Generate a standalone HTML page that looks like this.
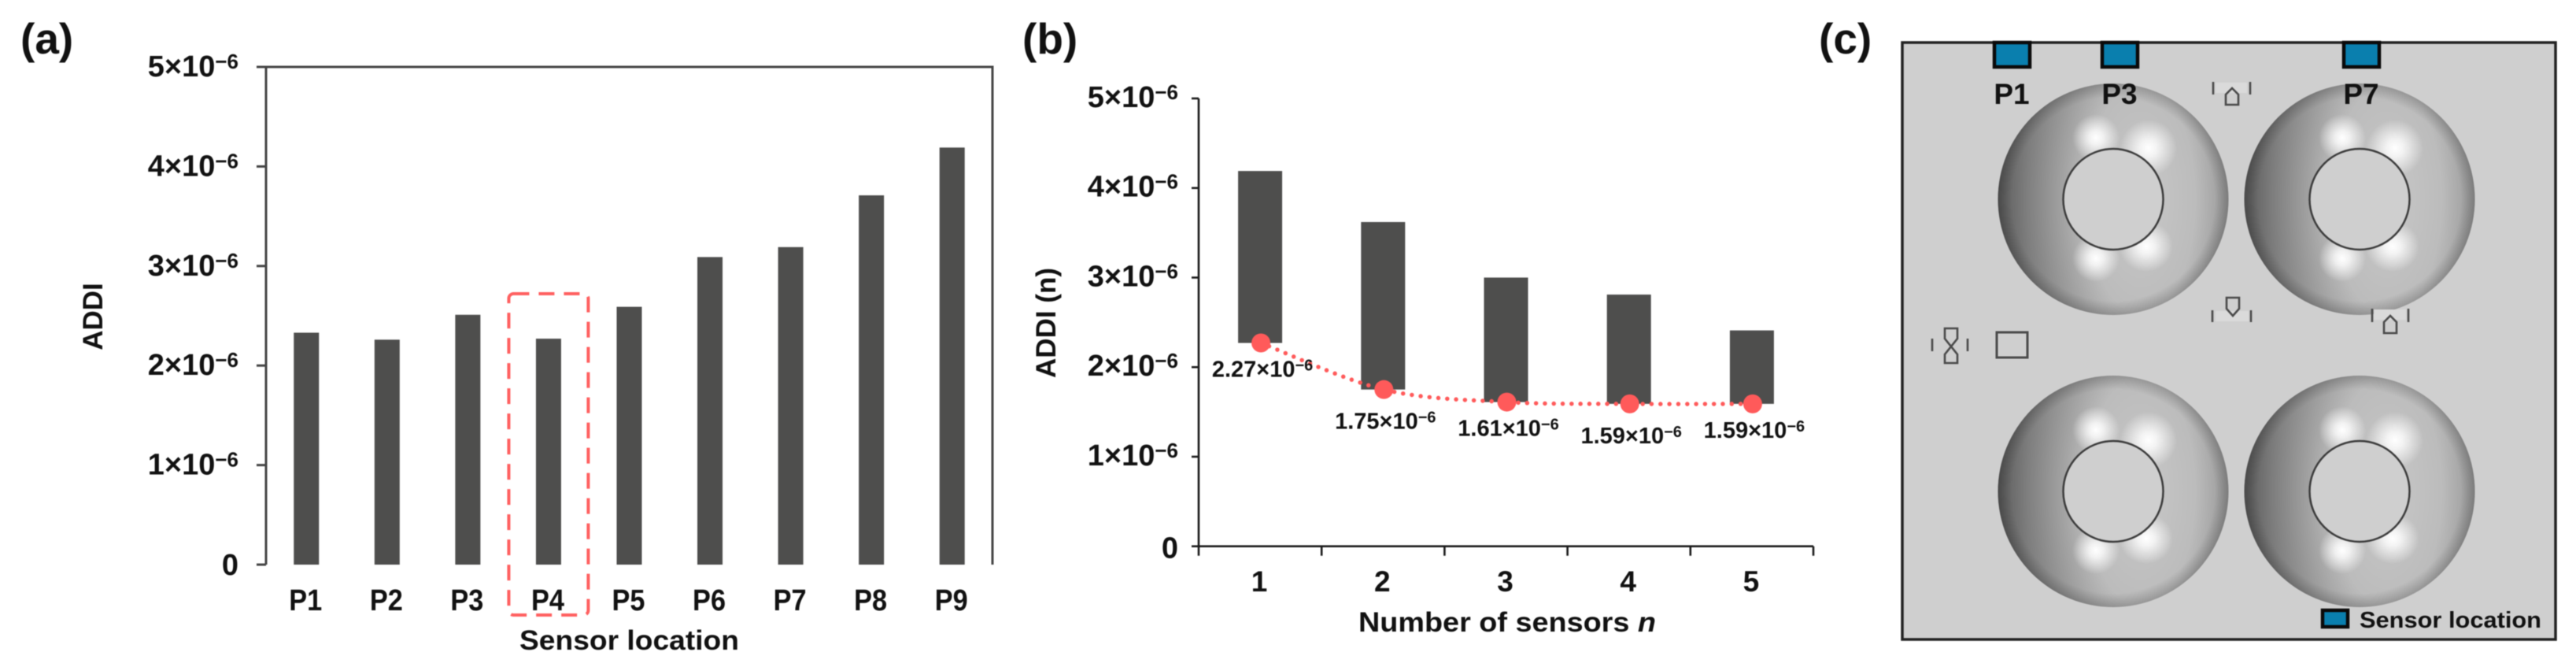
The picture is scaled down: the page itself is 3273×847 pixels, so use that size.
<!DOCTYPE html>
<html lang="en">
<head>
<meta charset="utf-8">
<title>ADDI by sensor location and number of sensors</title>
<style>
html,body{margin:0;padding:0;background:#fff;width:3273px;height:847px;overflow:hidden}
svg{display:block;filter:blur(.6px)}
text{font-family:"Liberation Sans",Arial,sans-serif;font-weight:700;fill:#111}
</style>
</head>
<body>
<svg id="figure" xmlns="http://www.w3.org/2000/svg" width="3273" height="847" viewBox="0 0 3273 847">
<defs>
<radialGradient id="torusShade" cx=".62" cy=".5" r="1" gradientTransform="translate(.62 .5) scale(.62 1.3) translate(-.62 -.5)">
<stop offset="0" stop-color="#c8c8c8"/><stop offset=".38" stop-color="#bcbcbc"/><stop offset=".55" stop-color="#a2a2a2"/><stop offset=".8" stop-color="#7e7e7e"/><stop offset="1" stop-color="#5a5a5a"/>
</radialGradient>
<radialGradient id="torusRim"><stop offset=".88" stop-color="#000" stop-opacity="0"/><stop offset="1" stop-color="#000" stop-opacity=".2"/></radialGradient>
<radialGradient id="glow"><stop offset="0" stop-color="#fff" stop-opacity="1"/><stop offset=".3" stop-color="#fff" stop-opacity=".8"/><stop offset="1" stop-color="#fff" stop-opacity="0"/></radialGradient>
<g id="torus">
<ellipse cx="0" cy="0" rx="146.5" ry="147" fill="url(#torusShade)"/>
<ellipse cx="0" cy="0" rx="146.5" ry="147" fill="url(#torusRim)"/>
<ellipse cx="-22" cy="-78" rx="30" ry="30" fill="url(#glow)"/>
<ellipse cx="45" cy="-65" rx="36" ry="36" fill="url(#glow)"/>
<ellipse cx="-22" cy="75" rx="30" ry="30" fill="url(#glow)"/>
<ellipse cx="42" cy="60" rx="34" ry="32" fill="url(#glow)"/>
<ellipse cx="0" cy="0" rx="63.5" ry="64" fill="#cfcfcf" stroke="#3c3c3c" stroke-width="2.5"/>
</g>
</defs>

<g id="panel-a"></g>
<g id="panel-b"></g>

<g id="panel-c">
<text x="2311" y="68" font-size="55">(c)</text>
<rect x="2417" y="54" width="830" height="758" fill="#cfcfcf" stroke="#222" stroke-width="3.5"/>
<use href="#torus" transform="translate(2685 253)"/>
<use href="#torus" transform="translate(2998 253)"/>
<use href="#torus" transform="translate(2685 624)"/>
<use href="#torus" transform="translate(2998 624)"/>

<g fill="none" stroke="#4a4a4a" stroke-width="2.6">
<g>
<rect x="2815" y="105" width="40" height="13" fill="#dadada" stroke="none"/>
<path d="M2812 104v16M2859 104v16M2828 133v-13l8-8 8 8v13z"/>
</g>
<g>
<rect x="2815" y="395" width="42" height="13" fill="#dadada" stroke="none"/>
<path d="M2811 394v15M2860 394v15M2829 378v14l8 9 8-9v-14z"/>
</g>
<g>
<rect x="3016" y="393" width="41" height="13" fill="#dadada" stroke="none"/>
<path d="M3014 392v17M3060 392v17M3029 423v-14l8-8 8 8v14z"/>
</g>
<g>
<path d="M2455 430v16M2500 430v16M2471 417h16v13l-16 20v11h16v-11l-16-20z"/>
</g>
<rect x="2537" y="422" width="39" height="32" stroke-width="3"/>
</g>

<g>
<rect x="2534" y="54" width="45" height="31" fill="#0a7fae" stroke="#0a0a0a" stroke-width="4.5"/>
<text x="2556" y="132" font-size="37" text-anchor="middle">P1</text>
</g>
<g>
<rect x="2671" y="54" width="45" height="31" fill="#0a7fae" stroke="#0a0a0a" stroke-width="4.5"/>
<text x="2693" y="132" font-size="37" text-anchor="middle">P3</text>
</g>
<g>
<rect x="2978" y="54" width="45" height="31" fill="#0a7fae" stroke="#0a0a0a" stroke-width="4.5"/>
<text x="3000" y="132" font-size="37" text-anchor="middle">P7</text>
</g>
<g>
<rect x="2951" y="775" width="32" height="21" fill="#0a7fae" stroke="#0a0a0a" stroke-width="4.5"/>
<text x="2998" y="797" font-size="29" textLength="231" lengthAdjust="spacingAndGlyphs">Sensor location</text>
</g>
</g>
</svg>

<script>
// Panel (a) data
const sensorNames = ["P1", "P2", "P3", "P4", "P5", "P6", "P7", "P8", "P9"];
const sensorAddi = [2.33, 2.26, 2.51, 2.27, 2.59, 3.09, 3.19, 3.71, 4.19];
const highlightedSensor = "P4";
// Panel (b) data
const sensorCounts = ["1", "2", "3", "4", "5"];
const maxAddi = [4.19, 3.62, 3.0, 2.81, 2.41];
const minAddi = [2.27, 1.75, 1.61, 1.59, 1.59];
const minAddiLabels = ["2.27", "1.75", "1.61", "1.59", "1.59"];
// Shared axis ticks (units of 10^-6)
const yTicks = [0, 1, 2, 3, 4, 5];
const tickExponent = "−6";

const NS = "http://www.w3.org/2000/svg";
const BAR = "#4e4e4d", RED = "#ff5a5a";

function make(parent, tag, attrs, txt) {
  const el = document.createElementNS(NS, tag);
  for (const k in attrs) el.setAttribute(k, attrs[k]);
  if (txt !== undefined) el.textContent = txt;
  parent.appendChild(el);
  return el;
}

function sciLabel(parent, x, y, anchor, size, supSize, rise, mantissa) {
  const t = make(parent, "text", { x: x, y: y, "text-anchor": anchor, "font-size": size });
  make(t, "tspan", {}, mantissa + "×10");
  make(t, "tspan", { "font-size": supSize, dy: -rise }, tickExponent);
  return t;
}

/* ---------- Panel (a) ---------- */
(function () {
  const g = document.getElementById("panel-a");
  const L = 338, R = 1261, T = 85, B = 717, TICK = 12, YMAX = 5;
  const xBand = (R - L) / sensorNames.length;
  const xC = i => L + xBand * (i + 0.5);
  const y = v => B - (v / YMAX) * (B - T);
  const barW = 32;

  const title = make(g, "text", { x: 26, y: 68, "font-size": 55 }, "(a)");
  
  

  sensorAddi.forEach((v, i) => {
    const bar = make(g, "rect", { x: xC(i) - barW / 2, y: y(v), width: barW, height: B - y(v), fill: BAR });
    
    
    const lab = make(g, "text", { x: xC(i) - 1, y: B + 58, "font-size": 38, "text-anchor": "middle", textLength: 42, lengthAdjust: "spacingAndGlyphs" }, sensorNames[i]);
    
    
  });

  const frame = make(g, "path", {
    d: `M${L} ${T}H${R}V${B}M${L} ${T}V${B}`,
    fill: "none", stroke: "#444", "stroke-width": 3
  });
  
  

  yTicks.forEach(v => {
    const tick = make(g, "line", { x1: L - TICK, x2: L, y1: y(v), y2: y(v), stroke: "#444", "stroke-width": 3 });
    
    
    const lab = v === 0
      ? make(g, "text", { x: 303, y: y(v) + 13, "font-size": 38, "text-anchor": "end" }, "0")
      : sciLabel(g, 303, y(v) + 12, "end", 38, 26, 10, v);
    
    
  });

  const hi = sensorNames.indexOf(highlightedSensor);
  const box = make(g, "rect", {
    x: xC(hi) - 50.5, y: 373, width: 101, height: 408, rx: 6,
    fill: "none", stroke: "#ff6060", "stroke-width": 4, "stroke-dasharray": "20 12"
  });
  
  

  const xt = make(g, "text", { x: 660, y: 825, "font-size": 35, textLength: 279, lengthAdjust: "spacingAndGlyphs" }, "Sensor location");
  
  

  const yt = make(g, "text", { "font-size": 35, "text-anchor": "middle", transform: "translate(130 402) rotate(-90)" }, "ADDI");
  
  
})();

/* ---------- Panel (b) ---------- */
(function () {
  const g = document.getElementById("panel-b");
  const L = 1523, R = 2304, T = 125, B = 693.7, YMAX = 5;
  const xBand = (R - L) / sensorCounts.length;
  const xC = i => L + xBand * (i + 0.5);
  const y = v => B - (v / YMAX) * (B - T);
  const barW = 56;

  const title = make(g, "text", { x: 1299, y: 68, "font-size": 55 }, "(b)");
  
  

  maxAddi.forEach((v, i) => {
    const bar = make(g, "rect", { x: xC(i) - barW / 2, y: y(v), width: barW, height: y(minAddi[i]) - y(v), fill: BAR });
    
    
  });

  const axes = make(g, "path", { d: `M${L} ${T}V${B}H${R}`, fill: "none", stroke: "#1a1a1a", "stroke-width": 2.6 });
  
  

  yTicks.forEach(v => {
    const tick = make(g, "line", { x1: L - 9, x2: L, y1: y(v), y2: y(v), stroke: "#1a1a1a", "stroke-width": 2.6 });
    
    
    const lab = v === 0
      ? make(g, "text", { x: 1497, y: y(v) + 15, "font-size": 38, "text-anchor": "end" }, "0")
      : sciLabel(g, 1497, y(v) + 11, "end", 38, 26, 10, v);
    
    
  });

  for (let i = 0; i <= sensorCounts.length; i++) {
    const px = L + xBand * i;
    const tick = make(g, "line", { x1: px, x2: px, y1: B, y2: B + 12, stroke: "#1a1a1a", "stroke-width": 2.6 });
    
    
  }

  sensorCounts.forEach((c, i) => {
    const lab = make(g, "text", { x: xC(i) - 1, y: 751, "font-size": 37, "text-anchor": "middle" }, c);
    
    
  });

  // Smoothed (Catmull-Rom) dotted line through the minima
  const pts = minAddi.map((v, i) => [xC(i) + 1, y(v)]);
  let d = `M${pts[0][0]} ${pts[0][1]}`;
  for (let i = 0; i < pts.length - 1; i++) {
    const p0 = pts[Math.max(i - 1, 0)], p1 = pts[i], p2 = pts[i + 1], p3 = pts[Math.min(i + 2, pts.length - 1)];
    const c1 = [p1[0] + (p2[0] - p0[0]) / 6, p1[1] + (p2[1] - p0[1]) / 6];
    const c2 = [p2[0] - (p3[0] - p1[0]) / 6, p2[1] - (p3[1] - p1[1]) / 6];
    d += `C${c1[0]} ${c1[1]} ${c2[0]} ${c2[1]} ${p2[0]} ${p2[1]}`;
  }
  const line = make(g, "path", { d: d, fill: "none", stroke: RED, "stroke-width": 5.5, "stroke-linecap": "round", "stroke-dasharray": "0 11.3" });
  
  

  minAddi.forEach((v, i) => {
    const dot = make(g, "circle", { cx: xC(i) + 1, cy: y(v), r: 12, fill: RED });
    
    
    const stagger = i % 2 ? 50 : 43;
    const lab = sciLabel(g, xC(i) + 3, y(v) + stagger, "middle", 29, 20, 8, minAddiLabels[i]);
    
    
  });

  const xt = make(g, "text", { x: 1726, y: 802, "font-size": 35, textLength: 378, lengthAdjust: "spacingAndGlyphs" });
  make(xt, "tspan", {}, "Number of sensors ");
  make(xt, "tspan", { "font-style": "italic" }, "n");
  
  

  const yt = make(g, "text", { "font-size": 35, "text-anchor": "middle", transform: "translate(1341 410) rotate(-90)" }, "ADDI (n)");
  
  
})();
</script>
</body>
</html>
